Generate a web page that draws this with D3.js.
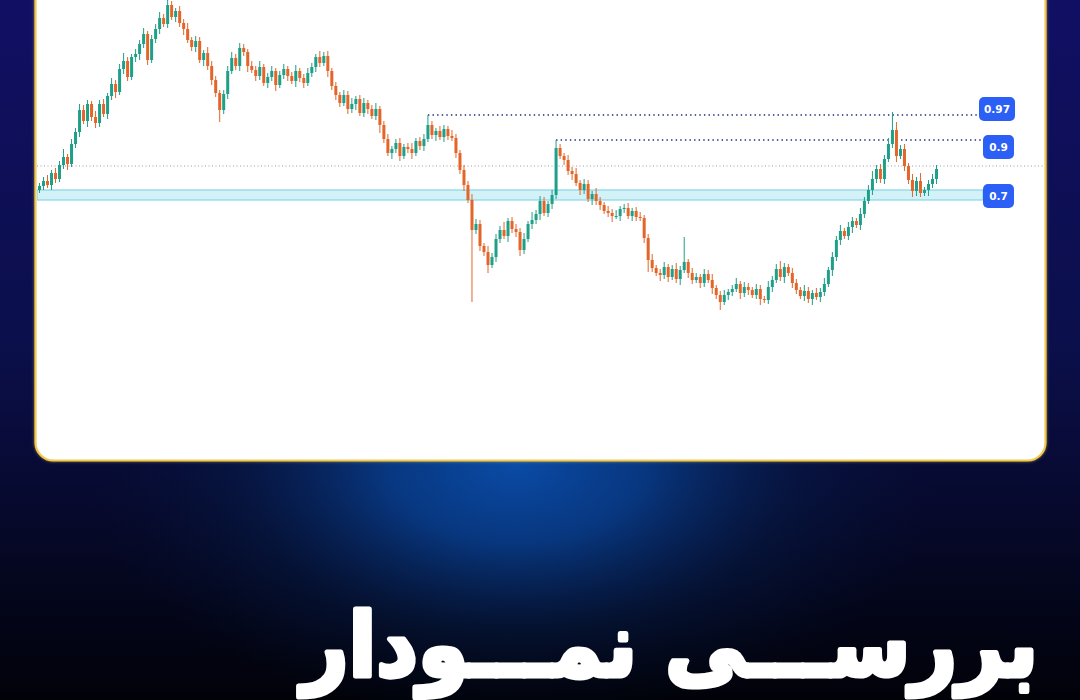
<!DOCTYPE html>
<html>
<head>
<meta charset="utf-8">
<script src="https://cdn.jsdelivr.net/npm/d3@7"></script>
<style>
html,body{margin:0;padding:0;background:#060a2a;}
svg{display:block;}
</style>
</head>
<body>
<svg id="chart" width="1080" height="700"></svg>
<script>
// ---------- DATA ----------
const firstOpen = 130;
const closes = [
134,139,135,147,141,155,163,156,176,188,210,199,216,203,197,
216,206,224,236,228,251,259,243,263,266,276,286,260,281,291,
302,296,315,303,309,297,291,280,273,279,260,267,254,240,227,
210,226,249,262,254,272,268,254,250,244,253,237,243,249,235,
245,251,244,239,249,242,237,247,253,263,257,264,249,234,225,
217,225,211,216,221,207,217,211,204,211,195,181,167,171,177,
164,173,171,167,179,174,181,195,185,189,183,191,184,182,167,
150,135,120,90,96,74,68,55,63,81,90,84,99,91,88,
70,81,96,100,106,119,107,116,125,172,164,160,149,146,137,
130,136,121,126,119,115,109,107,104,104,111,112,104,109,103,
102,82,60,52,47,45,53,43,51,41,50,58,47,40,43,
37,46,40,32,25,18,25,28,31,36,27,33,30,25,31,
21,20,33,40,51,43,53,47,37,30,24,29,21,27,23,
28,36,50,63,80,89,84,93,99,95,106,119,130,141,151,
141,161,176,190,164,171,154,140,129,139,127,130,136,141,151
];
const upperWick = [
3,4,6,3,5,4,8,3,5,4,6,5,4,3,6,
4,5,3,6,4,5,8,4,3,5,4,6,3,4,5,
6,4,10,4,3,5,4,6,3,5,4,3,6,5,4,
3,4,5,6,4,5,4,3,5,4,6,3,4,5,3,
4,5,3,4,6,3,4,5,4,3,6,4,5,3,4,
3,5,4,6,3,4,5,3,4,6,3,4,5,3,4,
5,3,4,6,3,4,5,10,4,3,5,4,3,6,4,
3,5,4,6,5,4,3,6,4,5,4,8,3,4,5,
4,6,3,8,4,5,4,3,5,8,4,3,5,4,6,
3,5,4,3,6,4,3,5,4,6,3,4,5,3,4,
5,3,4,6,3,4,5,3,4,6,4,25,3,5,4,
3,5,4,6,3,4,5,3,4,6,3,5,4,3,5,
4,3,6,4,5,8,4,3,5,4,3,6,4,3,5,
4,6,3,5,4,6,3,5,4,3,6,4,5,8,4,
5,4,6,18,8,4,5,3,6,4,8,3,4,5,4
];
const lowerWick = [
3,4,3,5,4,3,4,6,3,4,5,3,6,4,5,
4,3,5,4,6,3,5,4,3,5,6,4,5,3,4,
5,3,4,3,5,4,6,3,4,5,3,6,4,5,4,
12,4,5,3,4,5,4,6,3,5,4,3,5,4,6,
3,4,5,3,6,4,5,3,4,5,4,3,6,4,5,
4,3,5,4,6,3,4,5,3,4,8,4,3,6,4,
5,3,4,6,3,4,5,3,4,6,3,5,4,3,5,
4,6,3,72,4,5,4,8,3,5,4,3,6,4,5,
6,4,3,5,4,6,3,4,5,4,3,5,4,6,3,
5,4,3,6,4,5,3,4,6,3,5,4,3,5,4,
3,5,12,4,3,6,4,5,3,4,6,3,5,4,3,
5,4,3,6,4,8,3,5,4,3,6,4,5,3,4,
6,3,4,5,3,4,6,3,5,4,3,5,4,6,3,
5,4,3,6,4,5,3,4,6,3,5,4,3,5,4,
4,5,3,4,6,3,5,4,6,5,4,3,6,4,5
];
const levelLabels = ["0.97", "0.9"];
const levelStartIdx = [97, 129];
const zoneRange = [120, 130];
const zoneLabel = "0.7";
const titleText = "بررســـی نمـــودار";

// ---------- BUILD ----------
const N = closes.length;
const candles = closes.map((c, i) => {
  const o = i === 0 ? firstOpen : closes[i - 1];
  return {i, o, c, h: Math.max(o, c) + upperWick[i], l: Math.min(o, c) - lowerWick[i]};
});

const svg = d3.select("#chart");
const defs = svg.append("defs");

const bg = defs.append("linearGradient").attr("id","bg").attr("x1",0).attr("y1",0).attr("x2",0).attr("y2",1);
bg.append("stop").attr("offset","0%").attr("stop-color","#110f64");
bg.append("stop").attr("offset","50%").attr("stop-color","#0b0f4a");
bg.append("stop").attr("offset","100%").attr("stop-color","#010208");

const glow = defs.append("radialGradient").attr("id","glow")
  .attr("gradientUnits","userSpaceOnUse").attr("cx",515).attr("cy",465).attr("r",430)
  .attr("gradientTransform","translate(515,465) scale(1,0.6) translate(-515,-465)");
glow.append("stop").attr("offset","0%").attr("stop-color","#0a4ba6").attr("stop-opacity",1);
glow.append("stop").attr("offset","30%").attr("stop-color","#083f8e").attr("stop-opacity",0.85);
glow.append("stop").attr("offset","65%").attr("stop-color","#062659").attr("stop-opacity",0.35);
glow.append("stop").attr("offset","100%").attr("stop-color","#04163a").attr("stop-opacity",0);

const shadow = defs.append("filter").attr("id","pglow").attr("x","-5%").attr("y","-5%").attr("width","110%").attr("height","110%");
shadow.append("feGaussianBlur").attr("in","SourceAlpha").attr("stdDeviation",1.6).attr("result","b");
shadow.append("feFlood").attr("flood-color","#f6d24e").attr("flood-opacity",0.55);
shadow.append("feComposite").attr("in2","b").attr("operator","in");
const mg = shadow.append("feMerge");
mg.append("feMergeNode");
mg.append("feMergeNode").attr("in","SourceGraphic");

svg.append("rect").attr("width",1080).attr("height",700).attr("fill","url(#bg)");
svg.append("rect").attr("width",1080).attr("height",700).attr("fill","url(#glow)");

// panel
svg.append("rect").attr("x",35.5).attr("y",-40).attr("width",1010).attr("height",500.5)
  .attr("rx",18).attr("fill","#ffffff").attr("stroke","#f2c94c").attr("stroke-width",2.2)
  .attr("filter","url(#pglow)");

defs.append("clipPath").attr("id","pclip").append("rect")
  .attr("x",37).attr("y",-40).attr("width",1007).attr("height",499).attr("rx",17);

const g = svg.append("g").attr("clip-path","url(#pclip)");

const x = d3.scaleBand().domain(d3.range(N)).range([37, 939]).padding(0.25);
const y = d3.scaleLinear().domain([10, 330]).range([310, -10]);

const upC = "#1f9f88", dnC = "#e2662a";

// zone band
g.append("rect").attr("x",37).attr("width",946)
  .attr("y",y(zoneRange[1])).attr("height",y(zoneRange[0]) - y(zoneRange[1]))
  .attr("fill","#d3f2f8").attr("stroke","#86d6e6").attr("stroke-width",1.2);

// current price line
const last = closes[N - 1];
g.append("line").attr("x1",37).attr("x2",1046).attr("y1",y(last + 3)).attr("y2",y(last + 3))
  .attr("stroke","#8d939c").attr("stroke-width",0.9).attr("stroke-dasharray","1,2.5");

// level lines
const levelEnds = [978, 983];
levelStartIdx.forEach((idx, k) => {
  const p = candles[idx].h;
  g.append("line").attr("x1", x(idx) + x.bandwidth()/2).attr("x2", levelEnds[k])
    .attr("y1", y(p)).attr("y2", y(p))
    .attr("stroke","#1b2a7a").attr("stroke-width",1.5).attr("stroke-dasharray","1.4,3.2");
});

// candles
const cg = g.append("g");
cg.selectAll("line.wick").data(candles).join("line").attr("class","wick")
  .attr("x1", d => x(d.i) + x.bandwidth()/2).attr("x2", d => x(d.i) + x.bandwidth()/2)
  .attr("y1", d => y(d.h)).attr("y2", d => y(d.l))
  .attr("stroke", d => d.c >= d.o ? upC : dnC).attr("stroke-width",1);
cg.selectAll("rect.body").data(candles).join("rect").attr("class","body")
  .attr("x", d => x(d.i)).attr("width", x.bandwidth())
  .attr("y", d => y(Math.max(d.o, d.c)))
  .attr("height", d => Math.max(1, Math.abs(y(d.o) - y(d.c))))
  .attr("fill", d => d.c >= d.o ? upC : dnC);

// badges
const badges = [
  {label: levelLabels[0], x: 979, w: 36, cy: y(candles[levelStartIdx[0]].h) - 6},
  {label: levelLabels[1], x: 983, w: 31, cy: y(candles[levelStartIdx[1]].h) + 7},
  {label: zoneLabel,      x: 983, w: 31, cy: (y(zoneRange[0]) + y(zoneRange[1]))/2 + 1}
];
const bgG = svg.append("g");
badges.forEach(b => {
  bgG.append("rect").attr("x", b.x).attr("y", b.cy - 12).attr("width", b.w).attr("height", 24)
    .attr("rx", 5).attr("fill", "#2b5ff5");
  bgG.append("text").attr("x", b.x + b.w/2).attr("y", b.cy + 4)
    .attr("text-anchor","middle").attr("fill","#ffffff")
    .attr("font-family","DejaVu Sans, Liberation Sans, sans-serif")
    .attr("font-weight","bold").attr("font-size",10.5).text(b.label);
});

// title
const t = svg.append("text").attr("x", 0).attr("y", 0)
  .attr("fill","#ffffff").attr("stroke","#ffffff").attr("stroke-width",5)
  .attr("stroke-linejoin","round").attr("paint-order","stroke")
  .attr("font-family","DejaVu Sans, sans-serif")
  .attr("font-weight","bold").attr("font-size",88)
  .attr("direction","rtl").attr("text-anchor","start")
  .text(titleText);
const bb = t.node().getBBox();
const targetL = 298, targetR = 1038;
const sx = (targetR - targetL) / bb.width;
t.attr("transform", `translate(${targetR - (bb.x + bb.width) * sx},676) scale(${sx},1)`);
</script>
</body>
</html>
